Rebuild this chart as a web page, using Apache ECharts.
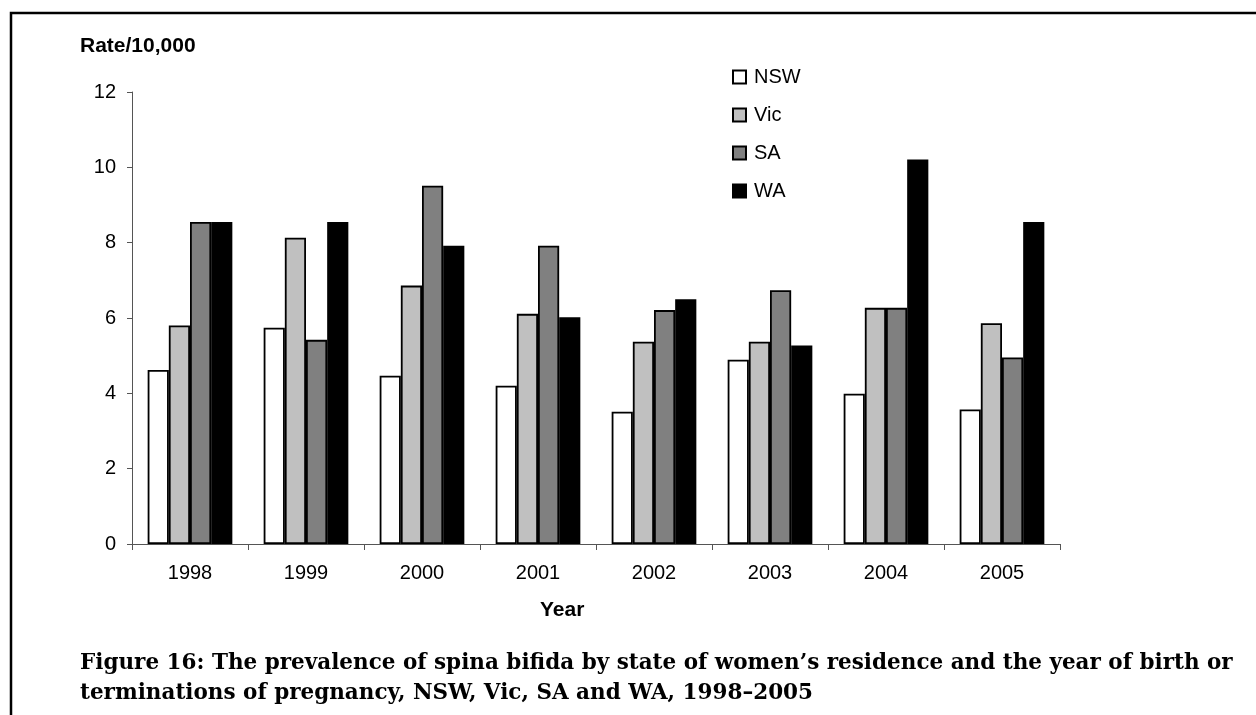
<!DOCTYPE html>
<html>
<head>
<meta charset="utf-8">
<script src="https://cdn.jsdelivr.net/npm/echarts@6/dist/echarts.min.js"></script>
<style>
  html, body { margin: 0; padding: 0; background: #fff; }
  #chart { width: 1256px; height: 715px; }
</style>
</head>
<body>
<div id="chart"></div>
<script>
// Spina bifida prevalence (rate per 10,000) by state and year
const years = ['1998', '1999', '2000', '2001', '2002', '2003', '2004', '2005'];
const nsw = [4.62, 5.74, 4.47, 4.20, 3.51, 4.89, 3.99, 3.57];
const vic = [5.80, 8.13, 6.86, 6.11, 5.37, 5.37, 6.27, 5.86];
const sa  = [8.55, 5.42, 9.51, 7.92, 6.21, 6.74, 6.27, 4.95];
const wa  = [8.55, 8.55, 7.92, 6.02, 6.50, 5.27, 10.21, 8.55];
const yTicks = { min: 0, max: 12, step: 2 };

const sans = '"Liberation Sans", Arial, sans-serif';
const serif = '"DejaVu Serif", "Liberation Serif", serif';

function barSeries(name, data, fill) {
  return {
    name: name,
    type: 'bar',
    data: data,
    barGap: '0%',
    barCategoryGap: '27%',
    itemStyle: { color: fill, borderColor: '#000', borderWidth: 1.8 },
    emphasis: { disabled: true }
  };
}

const chart = echarts.init(document.getElementById('chart'), null, { renderer: 'canvas' });
chart.setOption({
  animation: false,
  backgroundColor: '#fff',
  grid: { left: 132, right: 196, top: 92, bottom: 171, containLabel: false },
  legend: {
    orient: 'vertical',
    left: 732,
    top: 67,
    padding: 0,
    itemWidth: 13,
    itemHeight: 13,
    itemGap: 18,
    icon: 'rect',
    textStyle: { fontFamily: sans, fontSize: 20, color: '#000', padding: [0, 0, 0, 3] },
    data: ['NSW', 'Vic', 'SA', 'WA']
  },
  xAxis: {
    type: 'category',
    data: years,
    axisLine: { lineStyle: { color: '#555', width: 1 } },
    axisTick: { show: true, length: 6, alignWithLabel: false, lineStyle: { color: '#555' } },
    axisLabel: { fontFamily: sans, fontSize: 20, color: '#000', margin: 19 },
    splitLine: { show: false }
  },
  yAxis: {
    type: 'value',
    min: yTicks.min,
    max: yTicks.max,
    interval: yTicks.step,
    axisLine: { show: true, lineStyle: { color: '#555', width: 1 } },
    axisTick: { show: true, length: 5, lineStyle: { color: '#555' } },
    axisLabel: { fontFamily: sans, fontSize: 20, color: '#000', margin: 16 },
    splitLine: { show: false }
  },
  series: [
    barSeries('NSW', nsw, '#ffffff'),
    barSeries('Vic', vic, '#c0c0c0'),
    barSeries('SA', sa, '#808080'),
    barSeries('WA', wa, '#000000')
  ],
  graphic: [
    // page frame (top and left rules)
    {
      type: 'polyline',
      shape: { points: [[11, 715], [11, 13], [1256, 13]] },
      style: { stroke: '#000', lineWidth: 2.5, fill: null }
    },
    {
      type: 'text', left: 80, top: 36,
      style: { text: 'Rate/10,000', font: 'bold 21px ' + sans, fill: '#000' }
    },
    {
      type: 'text', left: 540, top: 600,
      style: { text: 'Year', font: 'bold 21px ' + sans, fill: '#000' }
    },
    {
      type: 'text', left: 80, top: 648,
      style: {
        text: 'Figure 16: The prevalence of spina bifida by state of women\u2019s residence and the year of birth or\nterminations of pregnancy, NSW, Vic, SA and WA, 1998\u20132005',
        font: 'bold 21.5px ' + serif, fill: '#000', lineHeight: 30
      }
    }
  ]
});
</script>
</body>
</html>
